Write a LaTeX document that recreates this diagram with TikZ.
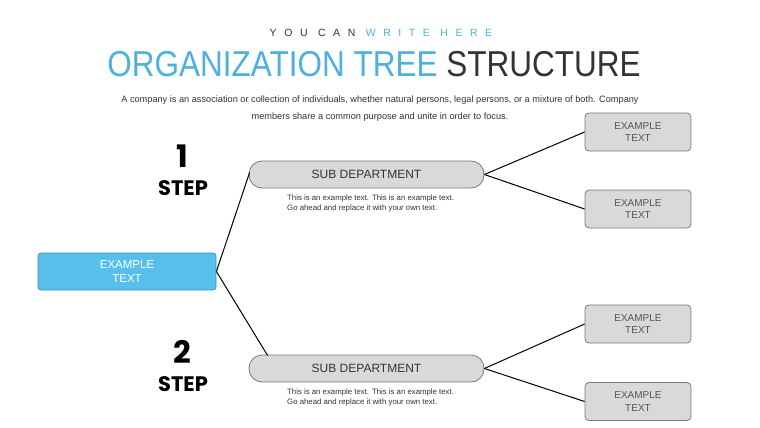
\documentclass[tikz,border=0pt]{standalone}
\usepackage{fontspec}
\setmainfont{Liberation Sans}
\newfontfamily\stepfont{Poppins}
\definecolor{tblue}{HTML}{4DB1DE}
\definecolor{bfill}{HTML}{56BFEC}
\definecolor{bdraw}{HTML}{3A96C8}
\definecolor{gfill}{HTML}{D9D9D9}
\definecolor{gdraw}{HTML}{7A7A7A}
\definecolor{dtext}{HTML}{333333}
\definecolor{mtext}{HTML}{555555}
\tikzset{
  mainbox/.style={draw=bdraw, fill=bfill, rounded corners=3pt, minimum width=178pt, minimum height=37pt, line width=0.8pt, text=white, align=center, font=\fontsize{11.5}{14.5}\selectfont, inner sep=0pt},
  subbox/.style={draw=gdraw, fill=gfill, rounded corners=13pt, minimum width=235pt, minimum height=27pt, line width=0.8pt, text=dtext, font=\fontsize{12}{14}\selectfont, inner sep=0pt},
  leafbox/.style={draw=gdraw, fill=gfill, rounded corners=4pt, minimum width=106pt, minimum height=38pt, line width=0.8pt, text=mtext, align=center, font=\fontsize{10}{12.5}\selectfont, inner sep=0pt},
  desc/.style={anchor=north west, align=left, text=dtext, font=\fontsize{7.8}{10}\selectfont, inner sep=0pt},
  stepnum/.style={font=\stepfont\bfseries\fontsize{31}{31}\selectfont, text=black, inner sep=0pt},
  steplbl/.style={font=\stepfont\bfseries\fontsize{21}{21}\selectfont, text=black, inner sep=0pt},
  conn/.style={draw=black, line width=1pt},
}
\begin{document}
\begin{tikzpicture}[x=1pt,y=-1pt]
\useasboundingbox[fill=white] (0,0) rectangle (760,428);
% header
\node[inner sep=0pt, font=\fontsize{10.5}{12}\selectfont\addfontfeature{LetterSpace=72}] (kicker) at (381,33) {\textcolor{dtext}{YOU CAN} \textcolor{tblue}{WRITE HERE}};
\node[inner sep=0pt] (title) at (374,64) {\scalebox{0.875}[1]{\fontsize{36}{40}\selectfont\textcolor{tblue}{ORGANIZATION TREE} \textcolor{dtext}{STRUCTURE}}};
\node[inner sep=0pt, align=center, text=dtext, font=\fontsize{9.2}{17}\selectfont] (intro) at (380,108.5) {A company is an association or collection of individuals, whether natural persons, legal persons, or a mixture of both. Company\\members share a common purpose and unite in order to focus.};
% nodes
\node[mainbox] (root) at (127,271.5) {EXAMPLE\\TEXT};
\node[subbox] (s1) at (366.5,174.5) {SUB DEPARTMENT};
\node[subbox] (s2) at (366.5,368.5) {SUB DEPARTMENT};
\node[leafbox] (l1) at (638,132) {EXAMPLE\\TEXT};
\node[leafbox] (l2) at (638,209) {EXAMPLE\\TEXT};
\node[leafbox] (l3) at (638,324) {EXAMPLE\\TEXT};
\node[leafbox] (l4) at (638,401.5) {EXAMPLE\\TEXT};
\node[desc] (d1) at (287,195) {This is an example text. This is an example text.\\Go ahead and replace it with your own text.};
\node[desc] (d2) at (287,389) {This is an example text. This is an example text.\\Go ahead and replace it with your own text.};
\node[stepnum] (n1) at (182,156) {1};
\node[steplbl] (t1) at (183,188) {STEP};
\node[stepnum] (n2) at (182,352) {2};
\node[steplbl] (t2) at (183,384) {STEP};
% connectors
\draw[conn] (root.east) -- ([xshift=1pt,yshift=2pt]s1.west);
\draw[conn] (root.east) -- ([xshift=19pt,yshift=13pt]s2.west);
\draw[conn] (s1.east) -- (l1.west);
\draw[conn] (s1.east) -- (l2.west);
\draw[conn] (s2.east) -- (l3.west);
\draw[conn] (s2.east) -- (l4.west);
\end{tikzpicture}
\end{document}
